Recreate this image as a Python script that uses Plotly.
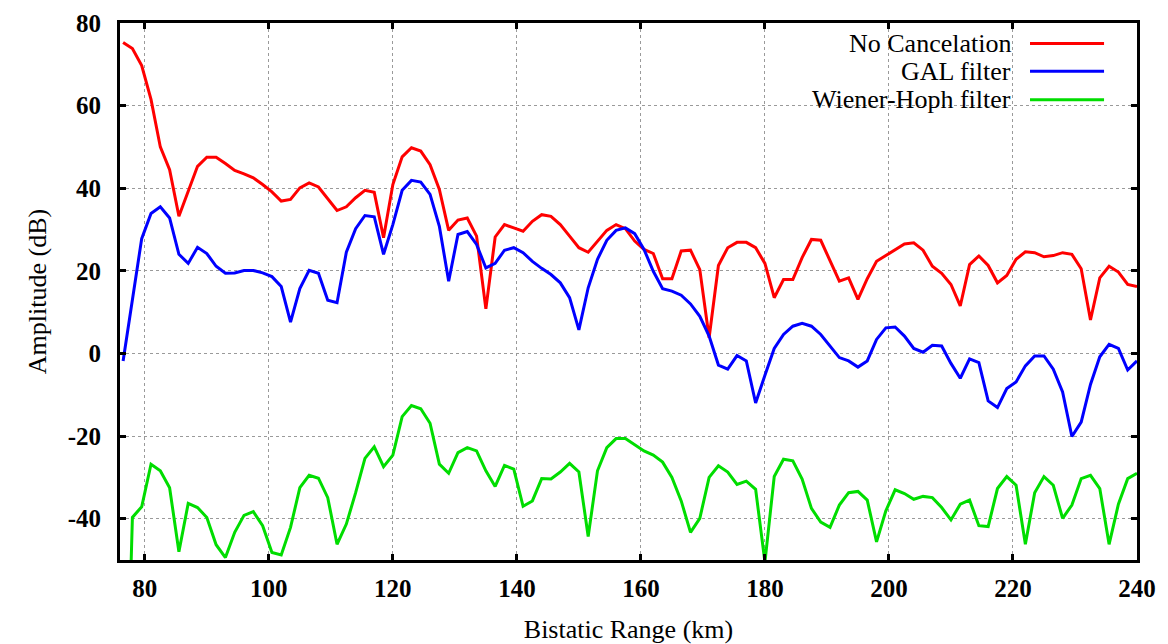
import plotly.graph_objects as go

# Bistatic range bins (km), 1.5 km spacing
range_start_km = 76.5
range_step_km = 1.5
n_bins = 110
bistatic_range_km = [range_start_km + range_step_km * i for i in range(n_bins)]

# Amplitude (dB) per range bin
no_cancelation = [
    75.3, 73.8, 69.7, 61.5, 50.0, 44.5, 33.2, 39.3, 45.3, 47.5,
    47.5, 46.0, 44.3, 43.5, 42.5, 40.9, 39.1, 36.9, 37.3, 40.1,
    41.3, 40.3, 37.4, 34.6, 35.5, 37.7, 39.5, 39.0, 28.0, 40.9,
    47.6, 49.8, 49.0, 45.7, 39.7, 29.8, 32.3, 32.8, 28.4, 10.8,
    28.2, 31.2, 30.4, 29.6, 32.0, 33.6, 33.2, 31.2, 28.4, 25.6,
    24.5, 27.2, 29.8, 31.2, 30.2, 27.2, 25.2, 24.2, 18.1, 18.1,
    24.8, 25.0, 20.3, 3.8, 21.3, 25.6, 26.9, 26.9, 25.6, 21.8,
    13.5, 17.9, 17.9, 23.2, 27.6, 27.4, 22.6, 17.5, 18.3, 13.1,
    18.1, 22.3, 23.7, 25.0, 26.5, 26.8, 25.0, 21.1, 19.4, 16.7,
    11.5, 21.5, 23.6, 21.3, 17.1, 18.9, 22.8, 24.6, 24.4, 23.4,
    23.7, 24.4, 24.0, 20.5, 8.1, 18.3, 21.1, 19.7, 16.7, 16.2,
]

gal_filter = [
    -1.8, 13.0, 27.8, 33.9, 35.5, 32.8, 24.0, 21.8, 25.7, 24.2,
    21.1, 19.4, 19.5, 20.1, 20.1, 19.5, 18.6, 16.2, 7.6, 15.7,
    20.1, 19.4, 12.9, 12.3, 24.5, 30.2, 33.4, 33.1, 24.0, 31.2,
    39.5, 41.9, 41.5, 38.5, 30.8, 17.5, 28.8, 29.5, 26.4, 20.7,
    21.8, 25.0, 25.6, 24.4, 22.3, 20.6, 19.1, 17.1, 13.5, 5.7,
    15.9, 22.8, 27.4, 29.8, 30.4, 29.0, 25.2, 19.9, 15.7, 15.1,
    14.1, 12.0, 9.0, 4.2, -2.8, -3.8, -0.5, -1.8, -12.0, -5.3,
    1.2, 4.6, 6.6, 7.3, 6.6, 4.6, 1.8, -1.0, -1.8, -3.3,
    -1.8, 3.4, 6.2, 6.4, 4.2, 1.2, 0.3, 2.0, 1.8, -2.4,
    -6.0, -1.3, -2.2, -11.5, -13.1, -8.5, -6.9, -3.0, -0.6, -0.6,
    -3.8, -9.3, -20.1, -16.6, -7.5, -0.8, 2.2, 1.2, -4.0, -1.8,
]

wiener_hoph_filter = [
    -120.0, -39.7, -37.1, -26.8, -28.4, -32.5, -48.0, -36.3, -37.3, -39.7,
    -46.3, -49.4, -43.3, -39.2, -38.3, -41.7, -48.2, -48.8, -42.1, -32.5,
    -29.5, -30.2, -34.9, -46.2, -41.3, -33.7, -25.4, -22.6, -27.4, -24.6,
    -15.3, -12.6, -13.4, -16.9, -26.8, -29.0, -24.0, -22.8, -23.6, -28.4,
    -32.2, -27.1, -28.0, -37.0, -35.7, -30.3, -30.4, -28.7, -26.6, -28.7,
    -44.3, -28.4, -22.8, -20.6, -20.6, -22.0, -23.6, -24.6, -26.3, -30.0,
    -35.7, -43.3, -39.9, -30.0, -27.2, -28.7, -31.7, -30.9, -32.9, -50.5,
    -29.8, -25.6, -26.0, -30.4, -37.5, -40.8, -42.1, -36.7, -33.7, -33.4,
    -35.5, -45.6, -38.1, -33.0, -33.9, -35.3, -34.6, -34.9, -37.3, -40.3,
    -36.5, -35.5, -41.7, -41.9, -32.7, -29.8, -31.9, -46.2, -33.7, -29.8,
    -31.9, -39.9, -36.7, -30.3, -29.5, -32.7, -46.2, -36.5, -30.3, -29.0,
]

series_names = ["No Cancelation", "GAL filter", "Wiener-Hoph filter"]
series_values = [no_cancelation, gal_filter, wiener_hoph_filter]
series_colors = ["#ff0000", "#0000ff", "#00dd00"]

x_ticks = [80, 100, 120, 140, 160, 180, 200, 220, 240]
x_tick_labels = ["80", "100", "120", "140", "160", "180", "200", "220", "240"]
y_ticks = [-40, -20, 0, 20, 40, 60, 80]
y_tick_labels = ["-40", "-20", "0", "20", "40", "60", "80"]

FONT = "Liberation Serif, Times New Roman, serif"

fig = go.Figure()
for name, vals, color in zip(series_names, series_values, series_colors):
    fig.add_trace(go.Scatter(
        x=bistatic_range_km, y=vals, mode="lines", name=name,
        line=dict(color=color, width=3), showlegend=False,
    ))

axis_common = dict(
    showline=True, linecolor="black", linewidth=3, mirror="ticks",
    ticks="inside", ticklen=6, tickwidth=2.5, tickcolor="black",
    showgrid=True, gridcolor="#9a9a9a", gridwidth=1, griddash="dot",
    zeroline=False,
    tickfont=dict(family=FONT, size=25, color="black", weight="bold"),
)

fig.update_xaxes(
    range=[76, 240], tickvals=x_ticks, ticktext=x_tick_labels, ticklabelstandoff=4,
    title=dict(text="Bistatic Range (km)", font=dict(family=FONT, size=26, color="black"), standoff=22),
    **axis_common,
)
fig.update_yaxes(
    range=[-50, 80], tickvals=y_ticks, ticktext=y_tick_labels, ticklabelstandoff=11,
    title=dict(text="Amplitude (dB)", font=dict(family=FONT, size=26, color="black"), standoff=14),
    **axis_common,
)

# Key: white panel over the grid, labels right-aligned with line samples to their right
shapes = [dict(
    type="rect", xref="paper", yref="paper", x0=0.583, x1=0.985, y0=0.834, y1=1.0,
    fillcolor="white", line=dict(width=0), layer="between",
)]
annotations = []
row_y = [0.962, 0.910, 0.857]
for name, color, yy in zip(series_names, series_colors, row_y):
    annotations.append(dict(
        text=name, xref="paper", yref="paper", x=0.878, y=yy,
        xanchor="right", yanchor="middle", showarrow=False,
        font=dict(family=FONT, size=26, color="black"),
    ))
    shapes.append(dict(
        type="line", xref="paper", yref="paper", x0=0.8948, x1=0.9676, y0=yy, y1=yy,
        line=dict(color=color, width=3), layer="above",
    ))

fig.update_layout(
    width=1168, height=644,
    margin=dict(l=120, r=31, t=23, b=84, autoexpand=False),
    paper_bgcolor="white", plot_bgcolor="white",
    font=dict(family=FONT, color="black"),
    shapes=shapes, annotations=annotations,
    showlegend=False,
)

fig.write_html("out.html")
